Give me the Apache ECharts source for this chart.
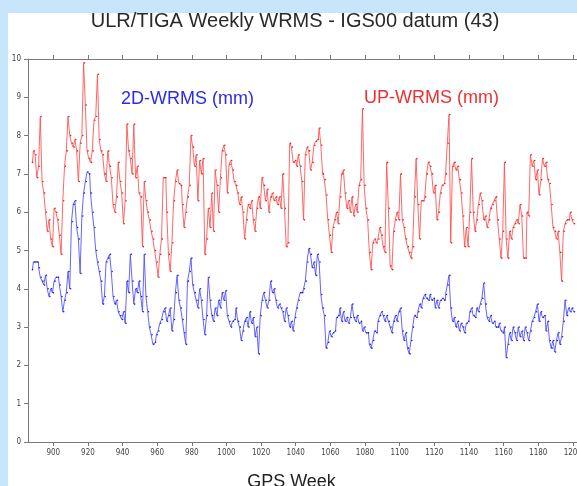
<!DOCTYPE html>
<html>
<head>
<meta charset="utf-8">
<title>ULR/TIGA Weekly WRMS</title>
<script src="https://cdn.jsdelivr.net/npm/echarts@6/dist/echarts.min.js"></script>
<style>
  html, body { margin: 0; padding: 0; background: #c8e6fb; }
  #panel { position: absolute; left: 8px; top: 13px; width: 569px; height: 473px; background: #ffffff; }
  #chart { position: absolute; left: 0; top: 0; width: 577px; height: 486px; }
</style>
</head>
<body>
<div id="panel"></div>
<div id="chart"></div>
<script>
// First GPS week of the weekly solutions
const firstWeek = 888;

// Weekly UP (height) WRMS, mm
const upWrms = [
  7.3,7.6,7.5,6.9,7.2,8.5,6.8,6.5,6.0,5.5, 5.8,5.3,5.1,6.1,6.0,5.8,5.4,4.9,6.3,7.2,
  7.6,8.5,8.0,7.8,7.7,7.9,7.6,6.8,7.8,8.0, 9.9,8.8,7.6,7.4,7.3,7.6,8.4,8.5,9.6,7.9,
  7.6,7.5,7.0,6.8,7.6,7.2,6.9,6.2,6.0,6.4, 7.3,6.8,6.5,5.7,6.3,8.3,7.6,7.4,7.0,8.3,
  6.9,7.2,6.5,6.4,5.1,6.8,6.3,6.0,5.8,5.5, 5.3,5.0,4.7,4.3,4.9,5.3,6.9,
  6.9,6.0,4.9,4.45,5.2,6.3,6.8,7.1,6.75,6.7, 6.2,5.6,6.0,6.4,6.7,8.0,7.7,7.2,7.5,6.3,
  7.35,7.0,7.4,4.9,5.3,6.1,5.6,6.5,5.5,7.1, 6.7,6.0,6.9,7.6,7.75,7.5,6.5,7.25,7.35,7.1,
  6.8,6.7,6.5,6.2,6.4,6.0,5.3,5.8,6.2,6.1, 6.3,5.8,5.5,6.1,6.4,6.1,6.9,6.7,6.3,6.6,
  6.0,6.4,6.5,6.3,6.4,6.2,6.4,6.1,7.0,6.1, 5.1,5.2,7.8,7.7,7.3,7.35,7.2,7.5,7.2,6.8,
  5.8,7.5,7.7,7.6,7.1,7.3,7.75,7.85,7.9,8.2, 7.75,7.0,6.85,6.45,5.8,5.4,4.95,5.6,5.8,6.0,
  5.7,6.4,7.0,7.1,6.5,6.1,6.3,6.0,6.4,5.9, 6.2,6.0,6.7,6.85,8.7,6.7,6.1,5.8,4.95,4.5,
  5.2,5.3,5.2,5.3,5.6,5.4,5.1,4.95,7.3,6.1, 4.6,4.5,5.5,5.8,6.0,5.8,7.0,5.8,5.6,5.3,
  5.1,4.95,4.8,5.1,6.4,7.4,6.2,5.3,6.3,6.3, 6.4,7.0,7.3,7.2,7.0,6.5,6.7,5.8,6.0,
  6.5,6.7,6.75,7.0,7.8,8.55,5.2,7.2,7.3,7.1, 7.2,6.85,6.5,5.9,5.1,5.6,5.1,6.0,7.4,6.0,
  5.5,5.8,6.2,6.5,6.3,5.8,5.9,5.6,5.8,6.1, 6.2,6.3,6.4,5.8,5.3,4.8,5.5,7.3,5.3,4.8,
  5.5,5.3,5.6,5.7,5.8,5.7,6.2,5.9,4.8,4.8, 6.0,5.9,7.5,7.2,7.35,6.85,7.1,6.45,6.85,7.4,
  7.2,7.3,6.85,6.75,6.2,5.6,5.5,5.3,5.5,4.95, 4.2,5.5,5.7,5.8,5.8,6.0,5.8,5.7
];

// Weekly horizontal (2D) WRMS, mm
const wrms2d = [
  4.5,4.7,4.7,4.7,4.55,4.3,4.2,4.1,4.35,4.0, 3.8,4.0,3.9,4.2,4.3,4.3,4.1,3.8,3.4,3.7,
  3.9,4.45,4.0,5.75,6.2,6.3,5.6,5.3,4.4,5.9, 6.5,6.8,7.05,7.0,6.5,6.0,5.6,5.0,4.7,4.45,
  4.2,3.6,3.8,4.7,4.8,4.9,4.45,3.8,3.6,3.7, 3.4,3.3,3.2,3.4,3.1,4.2,3.9,4.9,4.2,3.6,
  4.0,3.9,4.2,3.8,3.4,4.9,3.8,3.4,3.0,2.8, 2.55,2.6,2.8,2.9,3.1,3.2,3.4,
  3.5,3.15,3.3,3.5,2.9,3.2,3.9,4.35,3.7,3.5, 3.2,2.85,2.55,4.2,4.45,4.8,4.1,3.9,3.7,3.5,
  4.0,3.7,3.2,2.8,3.3,4.3,3.7,3.3,3.15,3.5, 3.3,3.7,3.5,3.9,3.7,3.95,3.3,3.15,3.0,3.15,
  3.2,3.5,3.15,3.0,2.65,2.9,3.15,3.25,3.0,3.4, 3.1,3.25,2.75,3.0,2.3,3.3,3.7,3.9,3.7,3.5,
  3.7,4.2,3.9,4.0,3.7,3.5,3.6,3.5,3.4,3.15, 3.5,3.3,3.0,3.15,2.9,3.25,3.5,3.7,3.9,3.9,
  4.0,4.2,4.7,5.05,4.9,4.55,4.7,4.35,4.9,4.7, 3.85,3.5,3.3,2.45,2.6,2.9,2.75,2.85,2.9,3.25,
  3.3,3.5,3.15,3.4,3.15,3.25,3.1,3.25,3.6,3.25, 3.15,3.3,3.1,3.15,2.9,3.0,2.85,2.85,2.55,2.45,
  2.65,2.9,2.85,3.15,3.3,3.4,3.3,3.15,3.3,3.15, 3.0,2.85,3.15,3.3,3.15,3.4,3.5,2.9,2.65,2.85,
  2.45,2.3,2.65,3.0,3.3,3.25,3.4,3.6,3.5,3.75, 3.85,3.75,3.7,3.85,3.7,3.75,3.5,3.7,3.5,
  3.7,3.75,3.7,3.85,4.1,4.35,3.5,3.15,3.25,3.0, 3.15,2.9,3.1,3.0,2.85,3.1,3.15,3.4,3.5,3.3,
  3.25,3.5,3.4,3.6,3.75,4.15,3.6,3.25,3.15,3.3, 3.1,3.15,3.0,3.0,3.1,2.9,2.85,3.0,2.2,2.55,
  2.85,2.65,3.0,2.85,2.65,3.0,2.75,2.9,2.65,3.0, 2.85,2.65,2.9,3.15,3.25,3.4,3.6,3.15,3.4,3.25,
  3.3,2.9,3.15,2.65,2.45,2.65,2.35,2.65,2.85,2.55, 2.75,3.15,3.7,3.3,3.5,3.4,3.5,3.4
];

// Axis ticks
const weekTicks = [900,920,940,960,980,1000,1020,1040,1060,1080,1100,1120,1140,1160,1180,1200];
const weekRange = [885.4, 1202.4];
const wrmsRange = [0, 10];

const toPairs = vals => vals.map((v, i) => [firstWeek + i, v]);

const tickFont = {
  color: '#444',
  fontSize: 8,
  fontFamily: '"DejaVu Sans Condensed", "Liberation Sans Narrow", "Liberation Sans", sans-serif',
  formatter: v => String(v)
};
const axisGray = '#7a7a7a';

const chart = echarts.init(document.getElementById('chart'), null, { renderer: 'canvas' });

chart.setOption({
  backgroundColor: 'transparent',
  animation: false,
  grid: { left: 28, right: 0, top: 59, bottom: 44, outerBoundsMode: 'none', containLabel: false },
  xAxis: [
    {
      type: 'value',
      position: 'bottom',
      min: weekRange[0],
      max: weekRange[1],
      name: 'GPS Week',
      nameLocation: 'middle',
      nameGap: 31,
      nameTextStyle: {
        color: '#222', fontSize: 18,
        fontFamily: '"Liberation Sans", Arial, sans-serif',
        padding: [0, 22, 0, 0]
      },
      axisLine: { show: true, lineStyle: { color: axisGray, width: 1 } },
      axisTick: { show: true, length: 4, customValues: weekTicks, lineStyle: { color: axisGray } },
      axisLabel: { show: true, margin: 7, customValues: weekTicks, ...tickFont },
      splitLine: { show: false }
    },
    {
      type: 'value',
      position: 'top',
      min: weekRange[0],
      max: weekRange[1],
      axisLine: { show: true, lineStyle: { color: axisGray, width: 1 } },
      axisTick: { show: true, length: 4, customValues: weekTicks, lineStyle: { color: axisGray } },
      axisLabel: { show: false },
      splitLine: { show: false }
    }
  ],
  yAxis: {
    type: 'value',
    min: wrmsRange[0],
    max: wrmsRange[1],
    interval: 1,
    axisLine: { show: true, lineStyle: { color: axisGray, width: 1 } },
    axisTick: { show: true, length: 4, lineStyle: { color: axisGray } },
    axisLabel: { show: true, margin: 7, ...tickFont },
    splitLine: { show: false }
  },
  graphic: [
    {
      type: 'text',
      x: 295, y: 21,
      style: {
        text: 'ULR/TIGA Weekly WRMS - IGS00 datum (43)',
        fill: '#2a2a2a',
        fontSize: 20,
        fontFamily: '"Liberation Sans", Arial, sans-serif',
        textAlign: 'center',
        textVerticalAlign: 'middle'
      }
    },
    {
      type: 'text',
      x: 121, y: 99,
      style: {
        text: '2D-WRMS (mm)',
        fill: '#2b2bf0',
        fontSize: 18,
        fontFamily: '"Liberation Sans", Arial, sans-serif',
        textAlign: 'left',
        textVerticalAlign: 'middle'
      }
    },
    {
      type: 'text',
      x: 364, y: 98,
      style: {
        text: 'UP-WRMS (mm)',
        fill: '#f03030',
        fontSize: 18,
        fontFamily: '"Liberation Sans", Arial, sans-serif',
        textAlign: 'left',
        textVerticalAlign: 'middle'
      }
    }
  ],
  series: [
    {
      name: 'UP-WRMS',
      type: 'line',
      step: 'middle',
      data: toPairs(upWrms),
      showSymbol: true,
      showAllSymbol: true,
      symbol: 'circle',
      symbolSize: 1.6,
      itemStyle: { color: '#e81c1c' },
      lineStyle: { color: '#ff4d4d', width: 1, opacity: 0.85 },
      emphasis: { disabled: true }
    },
    {
      name: '2D-WRMS',
      type: 'line',
      step: 'middle',
      data: toPairs(wrms2d),
      showSymbol: true,
      showAllSymbol: true,
      symbol: 'circle',
      symbolSize: 1.6,
      itemStyle: { color: '#1c1ce0' },
      lineStyle: { color: '#4a4aff', width: 1, opacity: 0.85 },
      emphasis: { disabled: true }
    }
  ]
});
</script>
</body>
</html>
